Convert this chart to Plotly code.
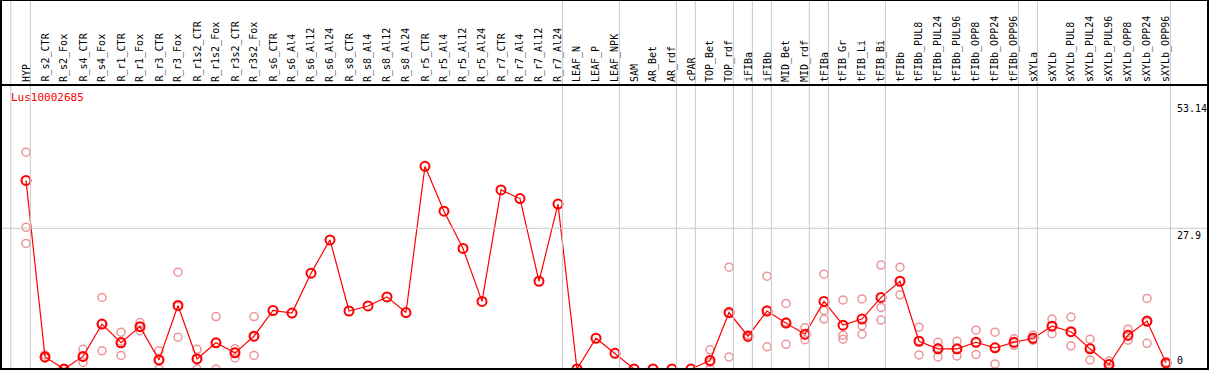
import plotly.graph_objects as go

categories = ["HYP", "R_s2_CTR", "R_s2_Fox", "R_s4_CTR", "R_s4_Fox", "R_r1_CTR", "R_r1_Fox",
              "R_r3_CTR", "R_r3_Fox", "R_r1s2_CTR", "R_r1s2_Fox", "R_r3s2_CTR", "R_r3s2_Fox",
              "R_s6_CTR", "R_s6_Al4", "R_s6_Al12", "R_s6_Al24", "R_s8_CTR", "R_s8_Al4", "R_s8_Al12",
              "R_s8_Al24", "R_r5_CTR", "R_r5_Al4", "R_r5_Al12", "R_r5_Al24", "R_r7_CTR", "R_r7_Al4",
              "R_r7_Al12", "R_r7_Al24", "LEAF_N", "LEAF_P", "LEAF_NPK", "SAM", "AR_Bet", "AR_rdf",
              "cPAR", "TOP_Bet", "TOP_rdf", "iFIBa", "iFIBb", "MID_Bet", "MID_rdf", "tFIBa",
              "tFIB_Gr", "tFIB_Li", "tFIB_Bi", "tFIBb", "tFIBb_PUL8", "tFIBb_PUL24", "tFIBb_PUL96",
              "tFIBb_OPP8", "tFIBb_OPP24", "tFIBb_OPP96", "sXYLa", "sXYLb", "sXYLb_PUL8",
              "sXYLb_PUL24", "sXYLb_PUL96", "sXYLb_OPP8", "sXYLb_OPP24", "sXYLb_OPP96"]

mean_values = [37.4, 2.4, 0, 2.5, 8.9, 5.2, 8.4, 1.8, 12.6, 2.0, 5.2, 3.2, 6.5,
               11.6, 11.1, 19.0, 25.6, 11.5, 12.5, 14.3, 11.2, 40.2, 31.3, 23.9, 13.4,
               35.5, 33.8, 17.4, 32.7, 0, 6.1, 3.1, 0, 0, 0, 0, 1.7, 11.2, 6.5, 11.5,
               9.1, 6.9, 13.4, 8.7, 9.9, 14.2, 17.4, 5.5, 4.0, 4.0, 5.3, 4.2, 5.3,
               6.1, 8.5, 7.4, 4.0, 0.9, 6.7, 9.5, 1.2]

N = None
rep_a = [43.0, 2.8, 0, 3.9, 14.2, 7.3, 9.2, 3.6, 19.2, 3.9, 10.4, 4.0, 10.4,
         N, N, N, N, N, N, N, N, N, N, N, N, N, N, N, N, N, N, N, N, N, N, N,
         3.8, 20.2, 6.2, 18.4, 13.0, 8.2, 18.8, 13.7, 13.9, 20.6, 20.2, 8.3, 5.3, 5.5,
         7.7, 7.3, 6.0, 6.7, 9.9, 10.3, 5.9, 1.6, 7.9, 14.0, 1.2]
rep_b = [28.1, 2.2, 0, 1.3, 3.6, 2.7, 8.4, 0, 6.3, 0, 0, 2.2, 2.7,
         N, N, N, N, N, N, N, N, N, N, N, N, N, N, N, N, N, N, N, N, N, N, N,
         0, 2.4, 6.8, 4.4, 4.9, 5.8, 11.6, 6.7, 8.6, 12.2, 14.7, 2.8, 2.4, 2.6,
         2.9, 1.0, 4.7, 5.9, 7.0, 4.6, 1.8, 0, 5.7, 5.1, 1.0]
rep_c = [24.9, 2.2, 0, 2.4, 8.9, 5.5, 7.6, 1.8, 12.4, 2.0, 5.2, 3.3, 6.4,
         N, N, N, N, N, N, N, N, N, N, N, N, N, N, N, N, N, N, N, N, N, N, N,
         1.3, 11.0, N, 11.7, 9.3, 6.7, 9.9, 5.9, 6.9, 9.7, 17.4, 5.6, 4.2, 3.9,
         5.3, 4.3, 5.2, 5.7, 8.6, 7.3, 4.2, 1.0, 6.5, 9.3, 1.4]

group_sizes = [1, 28, 3, 3, 1, 2, 1, 1, 2, 1, 3, 7, 1, 7]
y_tick_values = [53.14, 27.9, 0]
y_tick_labels = ["53.14", "27.9", "0"]
title_text = "Lus10002685"

W, H = 1209, 370
PX_PER_UNIT = 5.043
ZERO_PX = 369
HEADER_PX = 85
X0_PX, STEP_PX = 26, 19

font = "DejaVu Sans Mono, Liberation Mono, monospace"
xs = list(range(len(categories)))

fig = go.Figure()
rep_color = "rgba(232,130,135,0.85)"
for reps in (rep_a, rep_b, rep_c):
    fig.add_trace(go.Scatter(x=xs, y=reps, mode="markers",
                             marker=dict(symbol="circle-open", size=8, color=rep_color,
                                         line=dict(width=1.5, color=rep_color)),
                             hoverinfo="skip", showlegend=False))
fig.add_trace(go.Scatter(x=xs, y=mean_values, mode="lines+markers",
                         line=dict(color="red", width=1.2),
                         marker=dict(symbol="circle-open", size=9, color="red",
                                     line=dict(width=2, color="red")),
                         showlegend=False))

x_min = -X0_PX / STEP_PX
x_max = (W - X0_PX) / STEP_PX
y_min = (ZERO_PX - H) / PX_PER_UNIT
y_max = (ZERO_PX - HEADER_PX) / PX_PER_UNIT
dom_top = (H - HEADER_PX) / H

shapes = []
grey = "#c8c8c8"
boundaries = [-0.8]
pos = -1
for g in group_sizes:
    pos += g
    boundaries.append(pos + 0.23)
for b in boundaries:
    shapes.append(dict(type="line", xref="x", yref="paper", x0=b, x1=b, y0=0, y1=1,
                       line=dict(color=grey, width=1)))
shapes.append(dict(type="line", xref="paper", yref="y", x0=0, x1=1208 / W,
                   y0=y_tick_values[1], y1=y_tick_values[1], line=dict(color=grey, width=1)))
blk = dict(color="black", width=2)
shapes += [
    dict(type="line", xref="paper", yref="paper", x0=0, x1=1, y0=1, y1=1, line=blk),
    dict(type="line", xref="paper", yref="paper", x0=0, x1=1208 / W, y0=dom_top, y1=dom_top, line=blk),
    dict(type="line", xref="paper", yref="paper", x0=0, x1=1208 / W, y0=1 / H, y1=1 / H, line=blk),
    dict(type="line", xref="paper", yref="paper", x0=1 / W, x1=1 / W, y0=0, y1=1, line=blk),
    dict(type="line", xref="paper", yref="paper", x0=1208 / W, x1=1208 / W, y0=0, y1=1, line=blk),
]

annotations = []
for i, c in enumerate(categories):
    annotations.append(dict(x=i, y=(H - 83) / H, xref="x", yref="paper", text=c,
                            textangle=-90, showarrow=False, xanchor="center", yanchor="bottom",
                            font=dict(family=font, size=10, color="black"), borderpad=0))
annotations.append(dict(x=10 / W, y=(H - 97.5) / H, xref="paper", yref="paper", text=title_text,
                        showarrow=False, xanchor="left", yanchor="middle",
                        font=dict(family=font, size=11, color="red"), borderpad=0))
for v, t in zip(y_tick_values, y_tick_labels):
    anchor = "top" if v > 0 else "bottom"
    shift = -1 if v > 0 else 2
    annotations.append(dict(x=1176 / W, y=v, xref="paper", yref="y", text=t, showarrow=False,
                            xanchor="left", yanchor=anchor, yshift=shift,
                            font=dict(family=font, size=10, color="black"), borderpad=0))

fig.update_layout(
    width=W, height=H, margin=dict(l=0, r=0, t=0, b=0),
    paper_bgcolor="white", plot_bgcolor="white",
    xaxis=dict(range=[x_min, x_max], showgrid=False, zeroline=False, showticklabels=False,
               fixedrange=True),
    yaxis=dict(range=[y_min, y_max], domain=[0, dom_top], showgrid=False, zeroline=False,
               showticklabels=False, fixedrange=True),
    shapes=shapes, annotations=annotations,
)
fig.write_html("out.html", config={"displayModeBar": False},
               post_script="document.body.style.margin='0';")
